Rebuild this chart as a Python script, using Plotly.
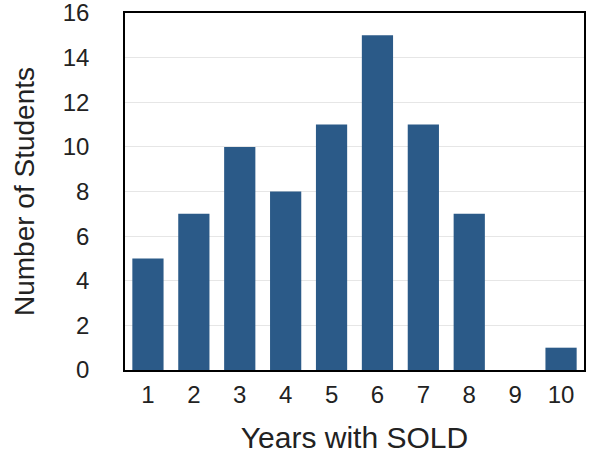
import plotly.graph_objects as go

years = [1, 2, 3, 4, 5, 6, 7, 8, 9, 10]
students = [5, 7, 10, 8, 11, 15, 11, 7, 0, 1]
y_ticks = [0, 2, 4, 6, 8, 10, 12, 14, 16]

fig = go.Figure(go.Bar(x=years, y=students, marker_color="#2b5a88",
                       marker_line_width=0, width=0.68))

fig.update_layout(
    width=591, height=455,
    margin=dict(l=125, r=7, t=13, b=85, autoexpand=False),
    plot_bgcolor="white", paper_bgcolor="white",
    font=dict(family="Liberation Sans, Arial, sans-serif", size=24, color="#222"),
    showlegend=False,
)
fig.update_xaxes(
    range=[0.5, 10.5], tickmode="array", tickvals=years,
    ticks="outside", ticklen=2, tickcolor="rgba(0,0,0,0)",
    showline=True, linecolor="black", linewidth=1.5, mirror=True,
    showgrid=False, ticklabeloverflow="allow", automargin=False,
    title=dict(text="Years with SOLD", font=dict(size=30), standoff=20),
)
fig.update_yaxes(
    range=[0, 16], tickmode="array", tickvals=y_ticks,
    ticks="outside", ticklen=29, tickcolor="rgba(0,0,0,0)",
    showline=True, linecolor="black", linewidth=1.5, mirror=True,
    showgrid=True, gridcolor="#e6e6e6", gridwidth=1,
    zeroline=False, ticklabeloverflow="allow", automargin=False,
    title=dict(text="Number of Students", font=dict(size=28), standoff=20),
)

fig.write_html(
    "out.html",
    config={"displayModeBar": False},
    post_script="document.body.style.margin='0';document.body.style.padding='0';",
)
